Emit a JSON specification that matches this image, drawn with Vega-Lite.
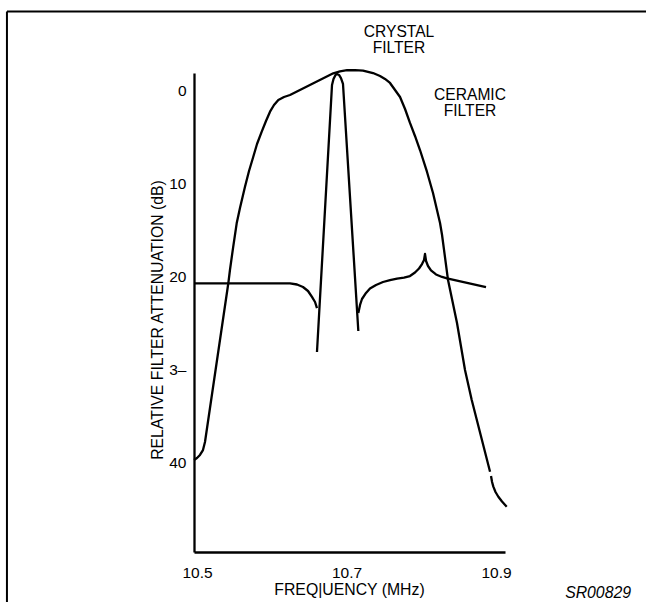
{
  "$schema": "https://vega.github.io/schema/vega-lite/v6.json",
  "width": 311,
  "height": 479,
  "autosize": {"type": "none"},
  "padding": {"left": 194, "top": 73, "right": 141, "bottom": 50},
  "background": "white",
  "config": {
    "view": {"stroke": null},
    "font": "Liberation Sans",
    "axis": {"grid": false, "ticks": false, "tickSize": 0, "domainColor": "black", "domainWidth": 2.3, "labelColor": "black", "titleColor": "black", "labelFont": "Liberation Sans", "titleFont": "Liberation Sans", "labelFontSize": 15.5, "titleFontSize": 15.8, "titleFontWeight": "normal"}
  },
  "datasets": {
    "curves": [
      {"seg": "ceramicA", "i": 1, "x": 10.4960, "y": 39.73},
      {"seg": "ceramicA", "i": 2, "x": 10.5000, "y": 39.52},
      {"seg": "ceramicA", "i": 3, "x": 10.5040, "y": 39.19},
      {"seg": "ceramicA", "i": 4, "x": 10.5080, "y": 38.66},
      {"seg": "ceramicA", "i": 5, "x": 10.5107, "y": 37.80},
      {"seg": "ceramicA", "i": 6, "x": 10.5419, "y": 20.73},
      {"seg": "ceramicA", "i": 7, "x": 10.5441, "y": 19.30},
      {"seg": "ceramicA", "i": 8, "x": 10.5482, "y": 16.94},
      {"seg": "ceramicA", "i": 9, "x": 10.5531, "y": 14.28},
      {"seg": "ceramicA", "i": 10, "x": 10.5575, "y": 12.63},
      {"seg": "ceramicA", "i": 11, "x": 10.5642, "y": 10.34},
      {"seg": "ceramicA", "i": 12, "x": 10.5696, "y": 8.66},
      {"seg": "ceramicA", "i": 13, "x": 10.5753, "y": 7.12},
      {"seg": "ceramicA", "i": 14, "x": 10.5803, "y": 5.75},
      {"seg": "ceramicA", "i": 15, "x": 10.5866, "y": 4.43},
      {"seg": "ceramicA", "i": 16, "x": 10.5923, "y": 3.28},
      {"seg": "ceramicA", "i": 17, "x": 10.5977, "y": 2.28},
      {"seg": "ceramicA", "i": 18, "x": 10.6030, "y": 1.56},
      {"seg": "ceramicA", "i": 19, "x": 10.6088, "y": 1.02},
      {"seg": "ceramicA", "i": 20, "x": 10.6164, "y": 0.70},
      {"seg": "ceramicA", "i": 21, "x": 10.6244, "y": 0.48},
      {"seg": "ceramicA", "i": 22, "x": 10.6823, "y": -1.85},
      {"seg": "ceramicA", "i": 23, "x": 10.6913, "y": -2.06},
      {"seg": "ceramicA", "i": 24, "x": 10.7007, "y": -2.18},
      {"seg": "ceramicA", "i": 25, "x": 10.7114, "y": -2.20},
      {"seg": "ceramicA", "i": 26, "x": 10.7221, "y": -2.14},
      {"seg": "ceramicA", "i": 27, "x": 10.7355, "y": -1.88},
      {"seg": "ceramicA", "i": 28, "x": 10.7448, "y": -1.56},
      {"seg": "ceramicA", "i": 29, "x": 10.7515, "y": -1.24},
      {"seg": "ceramicA", "i": 30, "x": 10.7582, "y": -0.81},
      {"seg": "ceramicA", "i": 31, "x": 10.7649, "y": -0.05},
      {"seg": "ceramicA", "i": 32, "x": 10.7716, "y": 0.70},
      {"seg": "ceramicA", "i": 33, "x": 10.7783, "y": 1.99},
      {"seg": "ceramicA", "i": 34, "x": 10.7849, "y": 3.49},
      {"seg": "ceramicA", "i": 35, "x": 10.7916, "y": 4.89},
      {"seg": "ceramicA", "i": 36, "x": 10.7983, "y": 6.40},
      {"seg": "ceramicA", "i": 37, "x": 10.8077, "y": 8.76},
      {"seg": "ceramicA", "i": 38, "x": 10.8157, "y": 11.02},
      {"seg": "ceramicA", "i": 39, "x": 10.8251, "y": 14.25},
      {"seg": "ceramicA", "i": 40, "x": 10.8278, "y": 15.54},
      {"seg": "ceramicA", "i": 41, "x": 10.8358, "y": 20.38},
      {"seg": "ceramicA", "i": 42, "x": 10.8478, "y": 25.00},
      {"seg": "ceramicA", "i": 43, "x": 10.8585, "y": 30.05},
      {"seg": "ceramicA", "i": 44, "x": 10.8675, "y": 33.28},
      {"seg": "ceramicA", "i": 45, "x": 10.8920, "y": 40.99},
      {"seg": "ceramicB", "i": 1, "x": 10.8933, "y": 41.45},
      {"seg": "ceramicB", "i": 2, "x": 10.8947, "y": 42.10},
      {"seg": "ceramicB", "i": 3, "x": 10.8964, "y": 42.60},
      {"seg": "ceramicB", "i": 4, "x": 10.8993, "y": 43.17},
      {"seg": "ceramicB", "i": 5, "x": 10.9031, "y": 43.68},
      {"seg": "ceramicB", "i": 6, "x": 10.9080, "y": 44.19},
      {"seg": "ceramicB", "i": 7, "x": 10.9143, "y": 44.75},
      {"seg": "crystalLeft", "i": 1, "x": 10.4960, "y": 20.73},
      {"seg": "crystalLeft", "i": 2, "x": 10.6244, "y": 20.73},
      {"seg": "crystalLeft", "i": 3, "x": 10.6338, "y": 20.86},
      {"seg": "crystalLeft", "i": 4, "x": 10.6418, "y": 21.13},
      {"seg": "crystalLeft", "i": 5, "x": 10.6485, "y": 21.56},
      {"seg": "crystalLeft", "i": 6, "x": 10.6538, "y": 22.20},
      {"seg": "crystalLeft", "i": 7, "x": 10.6579, "y": 22.74},
      {"seg": "crystalLeft", "i": 8, "x": 10.6605, "y": 23.39},
      {"seg": "crystalPeak", "i": 1, "x": 10.6605, "y": 28.12},
      {"seg": "crystalPeak", "i": 2, "x": 10.6806, "y": -0.59},
      {"seg": "crystalPeak", "i": 3, "x": 10.6826, "y": -1.24},
      {"seg": "crystalPeak", "i": 4, "x": 10.6853, "y": -1.67},
      {"seg": "crystalPeak", "i": 5, "x": 10.6873, "y": -1.77},
      {"seg": "crystalPeak", "i": 6, "x": 10.6900, "y": -1.67},
      {"seg": "crystalPeak", "i": 7, "x": 10.6926, "y": -1.34},
      {"seg": "crystalPeak", "i": 8, "x": 10.6953, "y": -0.70},
      {"seg": "crystalPeak", "i": 9, "x": 10.7158, "y": 25.86},
      {"seg": "crystalRight", "i": 1, "x": 10.7158, "y": 23.92},
      {"seg": "crystalRight", "i": 2, "x": 10.7181, "y": 23.06},
      {"seg": "crystalRight", "i": 3, "x": 10.7207, "y": 22.42},
      {"seg": "crystalRight", "i": 4, "x": 10.7261, "y": 21.77},
      {"seg": "crystalRight", "i": 5, "x": 10.7314, "y": 21.29},
      {"seg": "crystalRight", "i": 6, "x": 10.7395, "y": 20.91},
      {"seg": "crystalRight", "i": 7, "x": 10.7488, "y": 20.59},
      {"seg": "crystalRight", "i": 8, "x": 10.7582, "y": 20.38},
      {"seg": "crystalRight", "i": 9, "x": 10.7676, "y": 20.22},
      {"seg": "crystalRight", "i": 10, "x": 10.7769, "y": 20.11},
      {"seg": "crystalRight", "i": 11, "x": 10.7849, "y": 19.95},
      {"seg": "crystalRight", "i": 12, "x": 10.7916, "y": 19.57},
      {"seg": "crystalRight", "i": 13, "x": 10.7970, "y": 19.14},
      {"seg": "crystalRight", "i": 14, "x": 10.8010, "y": 18.66},
      {"seg": "crystalRight", "i": 15, "x": 10.8037, "y": 18.23},
      {"seg": "crystalRight", "i": 16, "x": 10.8050, "y": 17.58},
      {"seg": "crystalRight", "i": 17, "x": 10.8064, "y": 18.33},
      {"seg": "crystalRight", "i": 18, "x": 10.8090, "y": 18.87},
      {"seg": "crystalRight", "i": 19, "x": 10.8130, "y": 19.35},
      {"seg": "crystalRight", "i": 20, "x": 10.8197, "y": 19.78},
      {"seg": "crystalRight", "i": 21, "x": 10.8278, "y": 20.05},
      {"seg": "crystalRight", "i": 22, "x": 10.8344, "y": 20.19},
      {"seg": "crystalRight", "i": 23, "x": 10.8866, "y": 21.13}
    ],
    "frame": [
      {"x": 10.2458, "y": -8.49, "x2": 11.1007, "y2": -8.49},
      {"x": 10.2458, "y": -8.49, "x2": 10.2458, "y2": 55.0}
    ],
    "labels": [
      {"text": "CRYSTAL", "x": 10.7702, "y": -6.29},
      {"text": "FILTER", "x": 10.7702, "y": -4.57},
      {"text": "CERAMIC", "x": 10.8652, "y": 0.48},
      {"text": "FILTER", "x": 10.8652, "y": 2.20}
    ],
    "code": [
      {"text": "SR00829", "x": 11.0365, "y": 54.03}
    ]
  },
  "encoding": {
    "x": {
      "field": "x", "type": "quantitative",
      "scale": {"domain": [10.496, 10.912], "nice": false, "zero": false},
      "axis": {
        "values": [10.5, 10.7, 10.9], "format": ".1f",
        "labelBaseline": "alphabetic", "labelPadding": 25,
        "title": "FREQ|UENCY (MHz)", "titleX": 155, "titleY": 42, "titleBaseline": "alphabetic", "titleAnchor": "middle"
      }
    },
    "y": {
      "field": "y", "type": "quantitative",
      "scale": {"domain": [-1.8817, 49.624], "nice": false, "zero": false, "reverse": true},
      "axis": {
        "values": [0, 10, 20, 30, 40],
        "labelExpr": "datum.value == 30 ? '3–' : datum.label",
        "labelPadding": 8,
        "title": "RELATIVE FILTER ATTENUATION (dB)", "titleX": -31.3, "titleY": 246.5, "titleAngle": -90, "titleAlign": "center", "titleBaseline": "alphabetic"
      }
    }
  },
  "layer": [
    {
      "data": {"name": "frame"},
      "mark": {"type": "rule", "color": "black", "strokeWidth": 2},
      "encoding": {"x2": {"field": "x2"}, "y2": {"field": "y2"}}
    },
    {
      "data": {"name": "curves"},
      "mark": {"type": "line", "color": "black", "strokeWidth": 2.3, "strokeJoin": "round"},
      "encoding": {
        "detail": {"field": "seg"},
        "order": {"field": "i", "type": "quantitative"}
      }
    },
    {
      "data": {"name": "labels"},
      "mark": {"type": "text", "font": "Liberation Sans", "fontSize": 15.6, "color": "black", "align": "center", "baseline": "middle"},
      "encoding": {"text": {"field": "text"}}
    },
    {
      "data": {"name": "code"},
      "mark": {"type": "text", "font": "Liberation Sans", "fontSize": 15.8, "fontStyle": "italic", "color": "black", "align": "center", "baseline": "middle"},
      "encoding": {"text": {"field": "text"}}
    }
  ]
}
